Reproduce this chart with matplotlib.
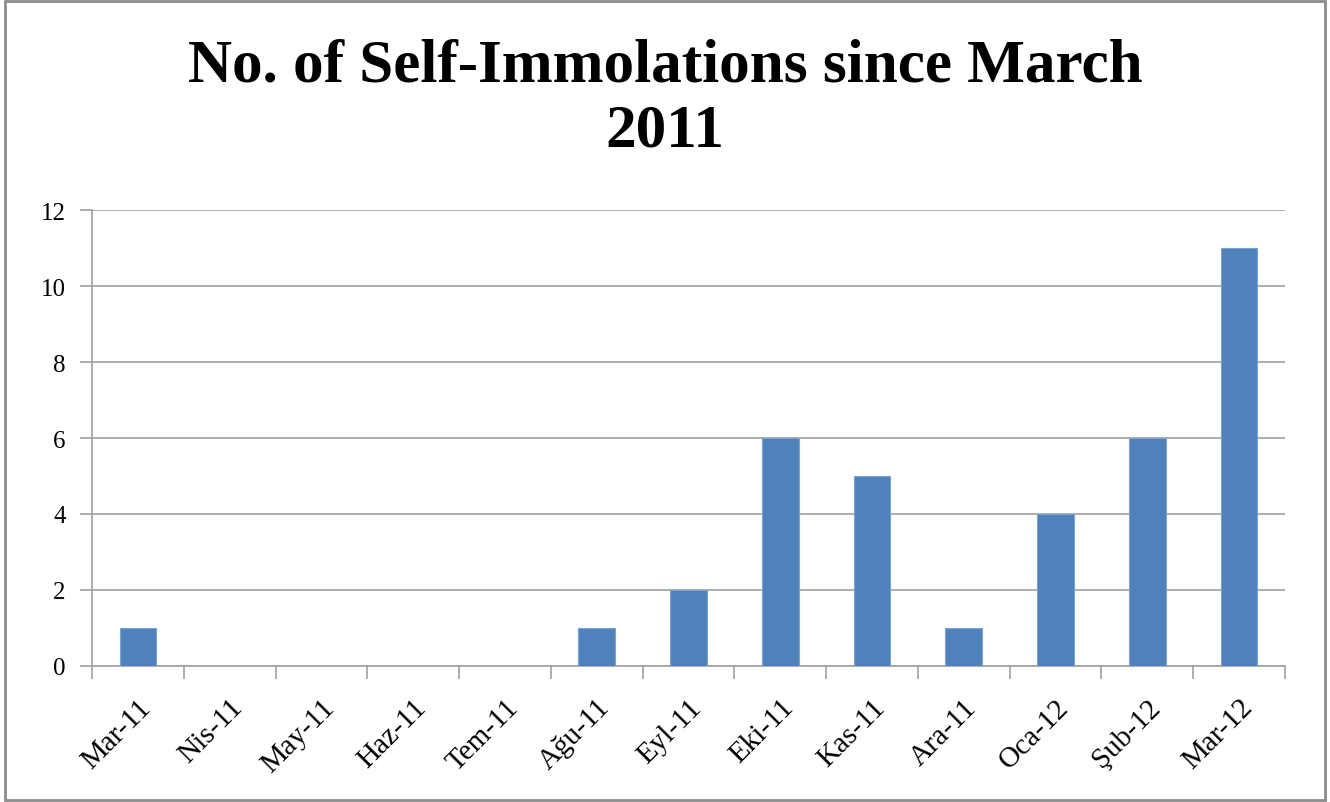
import matplotlib
matplotlib.use("Agg")
import matplotlib.pyplot as plt
from matplotlib.patches import Rectangle

categories = ["Mar-11", "Nis-11", "May-11", "Haz-11", "Tem-11", "Ağu-11", "Eyl-11",
              "Eki-11", "Kas-11", "Ara-11", "Oca-12", "Şub-12", "Mar-12"]
values = [1, 0, 0, 0, 0, 1, 2, 6, 5, 1, 4, 6, 11]
yticks = [0, 2, 4, 6, 8, 10, 12]
title = "No. of Self-Immolations since March\n2011"

plt.rcParams['font.family'] = ['Liberation Serif', 'DejaVu Serif']

fig = plt.figure(figsize=(13.3, 8.03), dpi=100)
fig.patches.append(Rectangle((0.004, 0.002), 0.992, 0.996, transform=fig.transFigure,
                             fill=False, edgecolor='#8c8c8c', linewidth=2))
ax = fig.add_axes([0.0692, 0.1694, 0.8968, 0.5678])

x = list(range(len(categories)))
ax.bar(x, values, width=0.4, color='#4f81bd', edgecolor='#7ea3d1', linewidth=0.8, zorder=3)
ax.set_xlim(-0.5, len(categories) - 0.5)
ax.set_ylim(0, 12)
ax.set_yticks(yticks)
ax.set_yticklabels([str(v) for v in yticks], fontsize=18)
ax.yaxis.grid(True, color='#a0a0a0', linewidth=1.2, zorder=0)
ax.tick_params(axis='y', length=9, color='#a0a0a0', width=1.2, pad=10)

ax.set_xticks([i - 0.5 for i in range(len(categories) + 1)])
ax.set_xticklabels([])
ax.set_xticks(x, minor=True)
ax.set_xticklabels(categories, minor=True, rotation=45, ha='right', va='top',
                   rotation_mode='anchor', fontsize=21)
ax.tick_params(axis='x', which='major', length=9, color='#a0a0a0', width=1.2)
ax.tick_params(axis='x', which='minor', length=0, pad=20)

for s in ['top', 'right']:
    ax.spines[s].set_visible(False)
for s in ['left', 'bottom']:
    ax.spines[s].set_color('#a0a0a0')
    ax.spines[s].set_linewidth(1.2)

fig.text(0.5, 0.877, title, ha='center', va='center', fontsize=44, fontweight='bold',
         linespacing=1.2)

fig.savefig("out.png", dpi=100)
